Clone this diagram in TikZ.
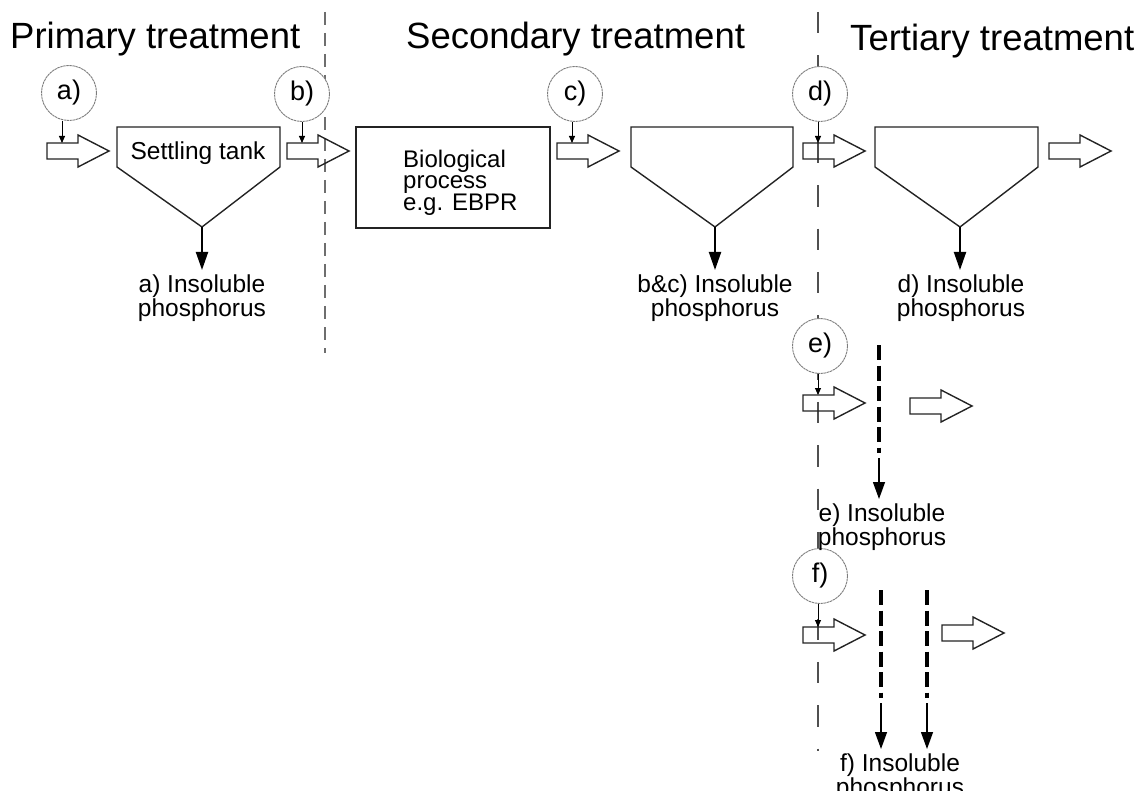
\documentclass[tikz,border=0pt]{standalone}
\usepackage{fontspec}
\setmainfont{Liberation Sans}
\usetikzlibrary{arrows.meta}
\definecolor{sepgray}{RGB}{110,110,110}
\definecolor{sepgrayb}{RGB}{80,80,80}
\definecolor{circgray}{RGB}{125,125,125}
\definecolor{ink}{RGB}{35,35,35}
\tikzset{
  titletext/.style={anchor=base west,inner sep=0pt,font=\fontsize{36.5}{40}\selectfont},
  labeltext/.style={anchor=north,inner sep=0pt,outer ysep=5pt,align=center,font=\fontsize{24.5}{17.5}\selectfont},
  stepcircle/.style={circle,draw=circgray,line width=0.9pt,dash pattern=on 2.5pt off 0.6pt,fill=white,minimum size=55pt,inner sep=0pt,font=\fontsize{27}{27}\selectfont},
  smallarrow/.style={-{Triangle[length=7pt,width=6pt]},line width=0.9pt,black},
  tankarrow/.style={-{Triangle[length=18pt,width=12pt]},line width=2pt,black},
  thinarrow/.style={-{Triangle[length=17pt,width=12pt]},line width=1.3pt,black},
  outline/.style={draw=ink,line width=1.4pt},
  dashdot/.style={line width=4.6pt,black,dash pattern=on 15pt off 5.5pt on 15pt off 5.5pt on 15pt off 5.5pt on 15pt off 5.5pt on 15pt off 5.5pt on 6pt off 200pt},
  barrow/.pic={\draw[outline] (0,-8) -- (31,-8) -- (31,-16) -- (62,0) -- (31,16) -- (31,8) -- (0,8) -- cycle;
    \coordinate (-top) at (15,-8);}
}
\begin{document}
\begin{tikzpicture}[x=1pt,y=-1pt]
\useasboundingbox (0,0) rectangle (1142,791);
% separators
\coordinate (s1top) at (325,12); \coordinate (s1bot) at (325,353);
\coordinate (s2top) at (818,12); \coordinate (s2bot) at (818,751);
\draw[sepgray,line width=1.6pt,dash pattern=on 13pt off 8pt] (s1top) -- (s1bot);
\draw[sepgrayb,line width=1.6pt,dash pattern=on 21.5pt off 21.83pt] (s2top) -- (s2bot);
% titles
\node[titletext] (t1) at (10,49) {Primary treatment};
\node[titletext] (t2) at (406,49) {Secondary treatment};
\node[titletext] (t3) at (850,51) {Tertiary treatment};
% block arrows
\pic (ba) at (47,151) {barrow};
\pic (bb) at (287,151) {barrow};
\pic (bc) at (557,151) {barrow};
\pic (bd) at (803,151) {barrow};
\pic (bo) at (1049,151) {barrow};
\pic (be) at (803,403) {barrow};
\pic (beo) at (910,406) {barrow};
\pic (bf) at (803,635) {barrow};
\pic (bfo) at (942,633) {barrow};
% circles
\node[stepcircle] (ca) at (69,93) {a)};
\node[stepcircle] (cb) at (302,94) {b)};
\node[stepcircle] (cc) at (575,94) {c)};
\node[stepcircle] (cd) at (820,94) {d)};
\node[stepcircle] (ce) at (820,346) {e)};
\node[stepcircle] (cf) at (820,576) {f)};
\draw[smallarrow] (ca.south -| ba-top) -- (ba-top);
\draw[smallarrow] (cb.south -| bb-top) -- (bb-top);
\draw[smallarrow] (cc.south -| bc-top) -- (bc-top);
\draw[smallarrow] (cd.south -| bd-top) -- (bd-top);
\draw[smallarrow] (ce.south -| be-top) -- (be-top);
\draw[smallarrow] (cf.south -| bf-top) -- (bf-top);
% tanks
\draw[outline] (117,127) -- (280,127) -- (280,167) coordinate (t1r) -- (202,227) coordinate (apexA) -- (117,167) -- cycle;
\node[anchor=base,inner sep=0pt,font=\fontsize{24.5}{25}\selectfont] (settle) at (198,160) {Settling tank};
\draw[outline] (631,127) -- (793,127) -- (793,167) -- (715,227) coordinate (apexB) -- (631,167) -- cycle;
\draw[outline] (875,127) -- (1038,127) -- (1038,167) -- (960,227) coordinate (apexD) -- (875,167) -- cycle;
% biological box
\node[outline,minimum width=194pt,minimum height=101pt,inner sep=0pt] (bio) at (453,177.5) {};
\node[anchor=north west,inner sep=0pt,align=left,font=\fontsize{24}{21}\selectfont] (biotext) at (403,149.5) {Biological\\process\\e.g. EBPR};
% labels
\node[labeltext] (labA) at (202,270) {a) Insoluble\\phosphorus};
\node[labeltext] (labB) at (715,270) {b\&c) Insoluble\\phosphorus};
\node[labeltext] (labD) at (961,270) {d) Insoluble\\phosphorus};
\node[labeltext] (labE) at (882,499) {e) Insoluble\\phosphorus};
\node[labeltext] (labF) at (900,749) {f) Insoluble\\phosphorus};
\draw[tankarrow] (apexA) -- (labA.north);
\draw[tankarrow] (apexB) -- (labB.north);
\draw[tankarrow] (apexD) -- (labD.north -| apexD);
% filters
\coordinate (e1top) at (879,345); \coordinate (e1mid) at (879,458);
\coordinate (f1top) at (881,590); \coordinate (f1mid) at (881,703);
\coordinate (f2top) at (927,590); \coordinate (f2mid) at (927,703);
\draw[dashdot] (e1top) -- ++(0,108);
\draw[dashdot] (f1top) -- ++(0,108);
\draw[dashdot] (f2top) -- ++(0,108);
\draw[thinarrow] (e1mid) -- (labE.north -| e1mid);
\draw[thinarrow] (f1mid) -- (labF.north -| f1mid);
\draw[thinarrow] (f2mid) -- (labF.north -| f2mid);
\end{tikzpicture}
\end{document}
